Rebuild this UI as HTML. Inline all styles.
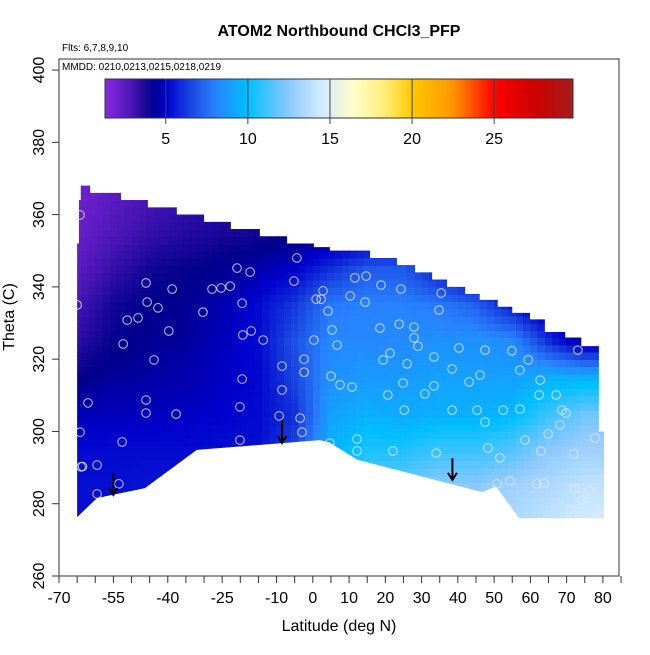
<!DOCTYPE html>
<html><head><meta charset="utf-8"><style>
body{margin:0;background:#fff;}
svg text{font-family:"Liberation Sans",sans-serif;}
</style></head><body>
<svg id="chart" width="650" height="650" xmlns="http://www.w3.org/2000/svg">
<defs>
<clipPath id="fieldClip"><polygon id="clipPoly"/></clipPath>
<linearGradient id="cbGrad" x1="0" x2="1" y1="0" y2="0"></linearGradient>
</defs>
<text x="339" y="36" text-anchor="middle" font-size="16" font-weight="bold">ATOM2 Northbound CHCl3_PFP</text>
<text x="62" y="51" font-size="10">Flts: 6,7,8,9,10</text>
<g id="field" clip-path="url(#fieldClip)"><g id="cells" shape-rendering="crispEdges"></g></g>
<g id="points"></g>
<g id="arrows"></g>
<rect x="59" y="59" width="560" height="517" fill="none" stroke="#555" stroke-width="1.2"/>
<text x="62" y="70" font-size="10">MMDD: 0210,0213,0215,0218,0219</text>
<g id="colorbar"></g>
<g id="xaxis"></g>
<g id="yaxis"></g>
<text x="339" y="631" text-anchor="middle" font-size="16">Latitude (deg N)</text>
<text transform="translate(14,317) rotate(-90)" text-anchor="middle" font-size="16">Theta (C)</text>
</svg>
<script>
const latEdges=[-70,-60,-50,-40,-30,-20,-10,0,10,20,30,40,50,60,70,80];
const thetaEdges=[370,360,350,340,330,320,310,300,290,280,270];
const gridValues=[
[2,2.5,3,3.3,3.5,3.6,3.8,3.8,3.8,3.8,3.8,3.8,3.8,3.8,3.8],
[2.2,2.8,3.3,3.6,3.8,3.9,4,4,4.2,4.2,4,4,3.8,3.8,3.8],
[2.5,3.3,3.9,4.1,4.3,4.6,5,6,7,7,5.5,4.3,4,3.8,3.8],
[3,3.9,4.2,4.3,4.6,5.2,6.2,7.8,8,8,7.8,7.2,5.5,4.2,3.8],
[3.5,4.1,4.3,4.4,4.8,5.2,6.8,8.2,8.2,8.3,8.5,8.5,8.3,6,4.2],
[4.1,4.4,4.5,4.6,4.9,5.1,6.5,8.5,8.8,8.8,9,9,9,9.5,9.5],
[4.7,4.8,4.8,4.9,5,5.2,6,9,9.5,9.3,9.5,9.5,9.8,11,12],
[5.2,5.2,5.2,5.2,5.3,5.3,6.5,9.5,10.5,10.5,11,11,11.5,12.5,13],
[5.3,5.3,5.4,5.4,5.4,5.5,6,9,11.5,12,12.5,12.5,13,13.5,14],
[5.3,5.3,5.4,5.4,5.4,5.5,6,9,12,12.5,13,13,13.5,14,14.5]];
const boundaryLat=[-65,-65,-64.5,-64.5,-64,-64,-61.4,-61.4,-52.9,-52.9,-45.5,-45.5,-37.5,-37.5,-30,-30,-22.6,-22.6,-14.6,-14.6,-7.1,-7.1,0.3,0.3,4.7,4.7,15.8,15.8,23.2,23.2,28.2,28.2,32.9,32.9,37,37,42,42,46,46,51,51,55,55,59.9,59.9,64,64,69.6,69.6,74,74,78.9,78.9,80.3,80.3,56.9,50.5,46.7,12.2,4.7,2,-32,-46.3,-59.5,-65];
const boundaryTheta=[344,352,352,364,364,368,368,366,366,364,364,362,362,360,360,358,358,356,356,354,354,352,352,351,351,350,350,348,348,346,346,344,344,342,342,340,340,338,338,336.4,336.4,334.5,334.5,332.8,332.8,331,331,327.5,327.5,326,326,323.6,323.6,300,300,276,276,284.8,283.2,292.2,296.9,297.6,294.9,284.3,281.6,276.3];
const pointLat=[-64.2,-65,-62,-64.2,-63.9,-59.5,-59.5,-52.6,-53.5,-52.3,-51.2,-48.2,-46,-45.7,-43.8,-46,-46,-42.7,-39.7,-37.7,-38.8,-30.3,-27.8,-25.3,-22.8,-19.5,-20.9,-19.3,-19.5,-20.1,-20.1,-17.3,-17,-13.7,-9.3,-8.5,-8.5,-4.4,-5.2,-2.4,-2.4,-3,-3.5,0.3,0.9,2.3,4.2,4.7,2.8,5.3,5,6.7,7.5,10.3,10.8,12.2,12.2,11.6,14.7,14.4,18.5,18.8,19.4,20.7,21.3,23.8,22.1,24.3,24.9,25.2,26,27.9,29,27.9,30.9,33.4,33.4,34,34.8,35.4,38.4,38.4,40.3,43.1,45.3,46.1,47.5,47.5,48.3,50.8,52.5,51.6,54.4,54.9,57.1,58.5,59.4,57.1,61.8,62.7,62.9,62.4,64.9,63.8,67.1,68.2,68.7,69.8,72,73.1,72.3,74.2,76.4,77.8,78.9,70.9,-63.5];
const pointTheta=[359.9,335,307.9,299.8,290.2,290.7,282.7,297.1,285.5,324.2,330.8,331.4,341.1,335.8,319.8,308.7,305.1,334.2,327.8,304.8,339.4,333,339.4,339.7,340.2,335.5,345.2,326.7,314.5,306.8,297.6,344.1,327.8,325.3,304.3,311.5,318.1,348,341.6,316.4,320,299.8,303.7,325.3,336.6,336.6,333.3,296.8,338.9,328.1,315.3,323.9,312.9,337.5,312.3,294.6,297.9,342.5,343,335.8,328.6,340.5,319.8,310.1,321.7,329.7,294.6,339.4,313.4,305.9,318.7,325.9,323.6,328.9,310.4,320.6,312.6,294,333.6,338.3,305.9,317.3,323.1,313.7,305.9,315.6,302.6,322.5,295.4,285.5,305.9,292.7,286.3,322.3,306.2,297.6,319.8,317,285.5,314.2,294.6,310.1,299.3,285.7,310.1,301.8,305.9,305.1,293.8,322.5,284.1,281,283.5,298.2,277.7,278.5,290.3];
const arrowLat=[-55,-8.5,38.5];
const arrowTop=[288.5,303.2,292.6];
const arrowBottom=[282.4,296.8,286.6];
const xTicks=[-70,-65,-60,-55,-50,-45,-40,-35,-30,-25,-20,-15,-10,-5,0,5,10,15,20,25,30,35,40,45,50,55,60,65,70,75,80,85];
const xLabels=[-70,-55,-40,-25,-10,0,10,20,30,40,50,60,70,80];
const yTicks=[260,280,300,320,340,360,380,400];
const cbTicks=[5,10,15,20,25];
const cbMin=1.3, cbMax=29.8;

const NS='http://www.w3.org/2000/svg';
const X=lat=>59+(lat+70)*3.626;
const Y=th=>576-(th-260)*3.614;
const CB=v=>105+(v-cbMin)/(cbMax-cbMin)*468;
const stops=[[1.3,[138,43,226]],[3,[70,20,180]],[4.2,[0,0,140]],[5,[0,0,205]],[6.5,[25,70,225]],[8,[40,130,255]],[10,[0,191,255]],[12.5,[140,200,255]],[14.5,[210,235,255]],[16.5,[255,255,200]],[18.5,[255,235,110]],[20,[255,200,0]],[22.5,[255,150,0]],[25,[255,0,0]],[27.5,[205,0,0]],[29.8,[165,30,30]]];
function color(v){
  if(v<=stops[0][0])return 'rgb('+stops[0][1]+')';
  for(let i=1;i<stops.length;i++){if(v<=stops[i][0]){const a=stops[i-1],b=stops[i],t=(v-a[0])/(b[0]-a[0]);
    return 'rgb('+a[1].map((c,k)=>Math.round(c+(b[1][k]-c)*t)).join(',')+')';}}
  return 'rgb('+stops[stops.length-1][1]+')';
}
function mk(tag,attrs,parent){const e=document.createElementNS(NS,tag);for(const k in attrs)e.setAttribute(k,attrs[k]);parent.appendChild(e);return e;}

// bilinear sample of grid at cell centres
function sample(lat,th){
  const nc=gridValues[0].length,nr=gridValues.length;
  let cf=(lat-latEdges[0])/(latEdges[1]-latEdges[0])-0.5;
  let rf=(thetaEdges[0]-th)/(thetaEdges[0]-thetaEdges[1])-0.5;
  cf=Math.max(0,Math.min(nc-1,cf)); rf=Math.max(0,Math.min(nr-1,rf));
  const c0=Math.floor(cf),r0=Math.floor(rf),c1=Math.min(nc-1,c0+1),r1=Math.min(nr-1,r0+1);
  const tc=cf-c0,tr=rf-r0;
  const a=gridValues[r0][c0]*(1-tc)+gridValues[r0][c1]*tc;
  const b=gridValues[r1][c0]*(1-tc)+gridValues[r1][c1]*tc;
  return a*(1-tr)+b*tr;
}
const cells=document.getElementById('cells');
const dLat=2,dTh=2;
for(let lat=-70;lat<81;lat+=dLat){for(let th=270;th<370;th+=dTh){
  const x0=X(lat),x1=X(lat+dLat),y0=Y(th+dTh),y1=Y(th);
  const e=mk('rect',{x:x0.toFixed(1),y:y0.toFixed(1),width:(x1-x0+0.8).toFixed(1),height:(y1-y0+0.8).toFixed(1),fill:color(sample(lat+dLat/2,th+dTh/2))},cells);
  
  
}}
document.getElementById('clipPoly').setAttribute('points',boundaryLat.map((l,i)=>X(l)+','+Y(boundaryTheta[i])).join(' '));

const pts=document.getElementById('points');
pointLat.forEach((l,i)=>{const e=mk('circle',{cx:X(l),cy:Y(pointTheta[i]),r:4.3,fill:'none',stroke:'#e8e8ff','stroke-width':1,opacity:0.85},pts);
  
  });

const arr=document.getElementById('arrows');
arrowLat.forEach((l,i)=>{const g=mk('g',{},arr);
  
  
  const x=X(l),yt=Y(arrowTop[i]),yb=Y(arrowBottom[i]);
  mk('line',{x1:x,y1:yt,x2:x,y2:yb,stroke:'#000','stroke-width':2},g);
  mk('polyline',{points:(x-4.5)+','+(yb-7)+' '+x+','+yb+' '+(x+4.5)+','+(yb-7),fill:'none',stroke:'#000','stroke-width':2},g);});

const grad=document.getElementById('cbGrad');
for(let v=cbMin;v<=cbMax+0.01;v+=0.5){mk('stop',{offset:((v-cbMin)/(cbMax-cbMin)).toFixed(4),'stop-color':color(v)},grad);}
const cb=document.getElementById('colorbar');
mk('rect',{x:105,y:79,width:468,height:39,fill:'url(#cbGrad)',stroke:'#333','stroke-width':1},cb);
cbTicks.forEach(v=>{
  const l=mk('line',{x1:CB(v),x2:CB(v),y1:79,y2:124,stroke:'#444','stroke-width':1},cb);
  
  
  const t=mk('text',{x:CB(v),y:144,'text-anchor':'middle','font-size':16},cb);t.textContent=v;
  
  });

const xa=document.getElementById('xaxis');
xTicks.forEach(v=>{const l=mk('line',{x1:X(v),x2:X(v),y1:576,y2:583,stroke:'#333'},xa);
  
  });
xLabels.forEach(v=>{const t=mk('text',{x:X(v),y:603,'text-anchor':'middle','font-size':16},xa);t.textContent=v;
  
  });
const ya=document.getElementById('yaxis');
yTicks.forEach(v=>{const l=mk('line',{x1:52,x2:59,y1:Y(v),y2:Y(v),stroke:'#333'},ya);
  
  
  const t=mk('text',{transform:'translate(44,'+Y(v)+') rotate(-90)','text-anchor':'middle','font-size':16},ya);t.textContent=v;
  
  });
</script>
</body></html>
